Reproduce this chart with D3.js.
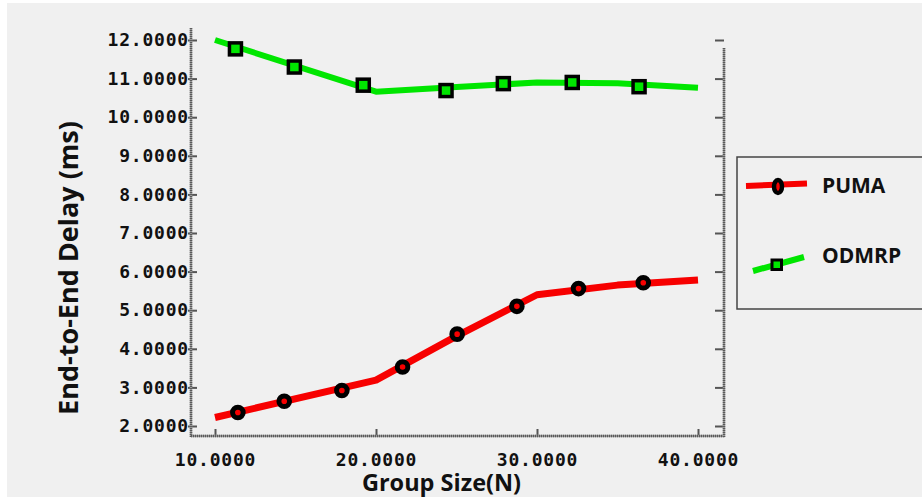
<!DOCTYPE html>
<html>
<head>
<meta charset="utf-8">
<script src="https://cdn.jsdelivr.net/npm/d3@7"></script>
<style>
  body { margin: 0; background: #ffffff; }
  svg { display: block; }
</style>
</head>
<body>
<svg width="922" height="497"></svg>
<script>

// chart values
const xTicks = [10, 20, 30, 40];
const yTicks = [2, 3, 4, 5, 6, 7, 8, 9, 10, 11, 12];
const seriesNames = ['PUMA', 'ODMRP'];

const pumaLineX = [10, 20, 25, 30, 35, 40];
const pumaLineY = [2.22, 3.19, 4.33, 5.40, 5.65, 5.78];
const pumaMarkX = [11.42, 14.30, 17.88, 21.65, 25.04, 28.75, 32.58, 36.60];
const pumaMarkY = [2.35, 2.64, 2.92, 3.53, 4.38, 5.10, 5.56, 5.71];

const odmrpLineX = [10, 20, 25, 30, 35, 40];
const odmrpLineY = [12.00, 10.66, 10.78, 10.90, 10.88, 10.76];
const odmrpMarkX = [11.27, 14.93, 19.21, 24.35, 27.91, 32.19, 36.34];
const odmrpMarkY = [11.77, 11.30, 10.83, 10.69, 10.87, 10.90, 10.79];

const red = '#f70000';
const green = '#00e600';

let svg = d3.select('svg');

// page background, thin white strip top and left
svg.append('rect')
   .attr('x', 7).attr('y', 3)
   .attr('width', 915).attr('height', 494)
   .attr('fill', '#f0f0f0');

// cut-off glyph from the text above the figure
svg.append('text')
   .attr('x', 16).attr('y', -5)
   .style('font', 'bold 20px "Open Sans"')
   .text('y');

let xScale = d3.scaleLinear()
               .domain([10, 40])
               .range([215, 698]);

let yScale = d3.scaleLinear()
               .domain([2, 12])
               .range([426, 40]);

let tickFont = 'bold 18px "DejaVu Sans Mono"';

// left axis
let yAxis = d3.axisLeft(yScale)
              .tickValues(yTicks)
              .tickFormat(d3.format('.4f'))
              .tickSizeInner(-6)
              .tickSizeOuter(0)
              .tickPadding(2);

let yAxisG = svg.append('g')
                .attr('transform', 'translate(191,0)')
                .call(yAxis);

// bottom axis
let xAxis = d3.axisBottom(xScale)
              .tickValues(xTicks)
              .tickFormat(d3.format('.4f'))
              .tickSizeInner(-7)
              .tickSizeOuter(0)
              .tickPadding(17);

let xAxisG = svg.append('g')
                .attr('transform', 'translate(0,436)')
                .call(xAxis);

// right axis, ticks only
let rAxis = d3.axisRight(yScale)
              .tickValues(yTicks)
              .tickFormat('')
              .tickSizeInner(-9)
              .tickSizeOuter(0);

let rAxisG = svg.append('g')
                .attr('transform', 'translate(724,0)')
                .call(rAxis);

[yAxisG, xAxisG, rAxisG].forEach(function(g) {
  g.select('.domain').remove();
  g.selectAll('.tick line')
   .attr('stroke', '#555')
   .attr('stroke-width', 2);
  g.selectAll('.tick text')
   .style('font', tickFont)
   .style('letter-spacing', '0.8px')
   .attr('fill', '#111');
});

yAxisG.selectAll('.tick line').attr('x1', -3);

// axis frame lines (grey, slightly dotted)
let frame = [
  [191, 28, 191, 437],
  [191, 436, 725, 436],
  [724, 48, 724, 437]
];
frame.forEach(function(f) {
  svg.append('line')
     .attr('x1', f[0]).attr('y1', f[1])
     .attr('x2', f[2]).attr('y2', f[3])
     .attr('stroke', '#9a9a9a')
     .attr('stroke-width', 2.5);
  svg.append('line')
     .attr('x1', f[0]).attr('y1', f[1])
     .attr('x2', f[2]).attr('y2', f[3])
     .attr('stroke', '#5a5a5a')
     .attr('stroke-width', 2.5)
     .attr('stroke-dasharray', '1,1');
});

// lines
let line = d3.line()
             .x(function(d) { return xScale(d[0]); })
             .y(function(d) { return yScale(d[1]); });

let pumaLine = d3.zip(pumaLineX, pumaLineY);
let odmrpLine = d3.zip(odmrpLineX, odmrpLineY);

svg.append('path')
   .attr('d', line(odmrpLine))
   .attr('fill', 'none')
   .attr('stroke', green)
   .attr('stroke-width', 6)
   .attr('stroke-linejoin', 'round');

svg.append('path')
   .attr('d', line(pumaLine))
   .attr('fill', 'none')
   .attr('stroke', red)
   .attr('stroke-width', 7)
   .attr('stroke-linejoin', 'round');

// markers
svg.selectAll('rect.odmrp')
   .data(d3.zip(odmrpMarkX, odmrpMarkY))
   .enter()
   .append('rect')
   .attr('class', 'odmrp')
   .attr('x', function(d) { return xScale(d[0]) - 6; })
   .attr('y', function(d) { return yScale(d[1]) - 6; })
   .attr('width', 12)
   .attr('height', 12)
   .attr('fill', green)
   .attr('stroke', '#000')
   .attr('stroke-width', 3.5);

svg.selectAll('circle.puma')
   .data(d3.zip(pumaMarkX, pumaMarkY))
   .enter()
   .append('circle')
   .attr('class', 'puma')
   .attr('cx', function(d) { return xScale(d[0]); })
   .attr('cy', function(d) { return yScale(d[1]); })
   .attr('r', 5.3)
   .attr('fill', red)
   .attr('stroke', '#000')
   .attr('stroke-width', 5);

// axis titles
svg.append('text')
   .attr('x', 441.5)
   .attr('y', 490.5)
   .attr('text-anchor', 'middle')
   .style('font', 'bold 23.5px "Open Sans"')
   .attr('fill', '#111')
   .text('Group Size(N)');

svg.append('text')
   .attr('transform', 'translate(78,268) rotate(-90)')
   .attr('text-anchor', 'middle')
   .style('font', 'bold 27px "Open Sans"')
   .attr('fill', '#111')
   .text('End-to-End Delay (ms)');

// legend
let legend = svg.append('g');

legend.append('rect')
      .attr('x', 737).attr('y', 157)
      .attr('width', 200).attr('height', 152)
      .attr('fill', 'none')
      .attr('stroke', '#444')
      .attr('stroke-width', 1.5);

legend.append('line')
      .attr('x1', 746).attr('y1', 186)
      .attr('x2', 807).attr('y2', 183.5)
      .attr('stroke', red)
      .attr('stroke-width', 6);

legend.append('ellipse')
      .attr('cx', 778).attr('cy', 186.5)
      .attr('rx', 4).attr('ry', 6.5)
      .attr('fill', red)
      .attr('stroke', '#000')
      .attr('stroke-width', 4.5);

legend.append('line')
      .attr('x1', 753).attr('y1', 271)
      .attr('x2', 804).attr('y2', 257)
      .attr('stroke', green)
      .attr('stroke-width', 6);

legend.append('rect')
      .attr('x', 772).attr('y', 260)
      .attr('width', 9.5).attr('height', 9.5)
      .attr('fill', green)
      .attr('stroke', '#000')
      .attr('stroke-width', 3);

legend.selectAll('text.legend')
      .data(seriesNames)
      .enter()
      .append('text')
      .attr('class', 'legend')
      .attr('x', 822)
      .attr('y', function(d, i) { return i === 0 ? 193 : 262.5; })
      .style('font', 'bold 21px "Open Sans"')
      .attr('fill', '#111')
      .text(function(d) { return d; });

</script>
</body>
</html>
